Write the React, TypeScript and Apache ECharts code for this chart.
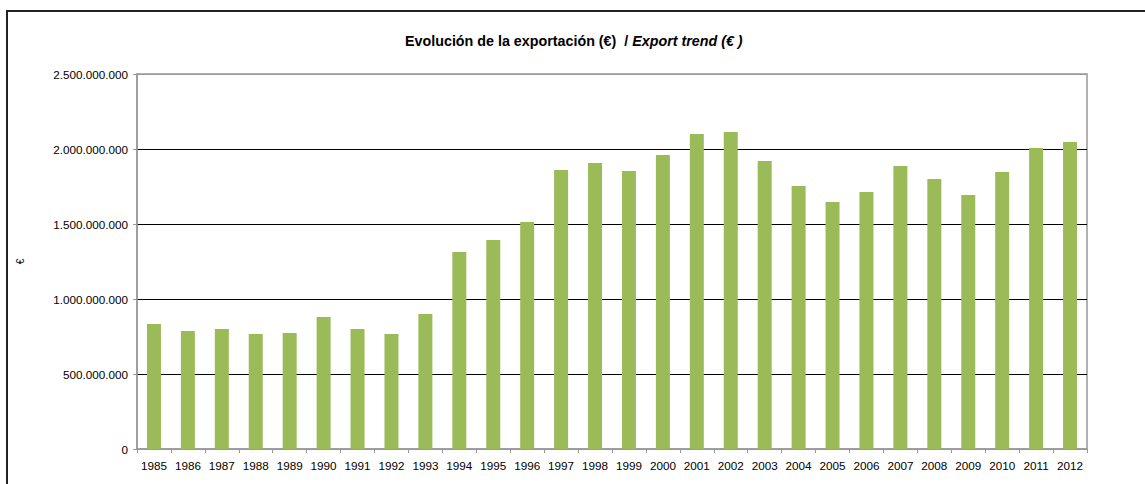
import React, { useEffect, useRef } from "react";
import * as echarts from "echarts";

const years = [
  "1985", "1986", "1987", "1988", "1989", "1990", "1991", "1992", "1993", "1994",
  "1995", "1996", "1997", "1998", "1999", "2000", "2001", "2002", "2003", "2004",
  "2005", "2006", "2007", "2008", "2009", "2010", "2011", "2012",
];

const exports = [
  833000000, 787000000, 800000000, 767000000, 773000000, 880000000, 800000000, 767000000,
  900000000, 1313000000, 1393000000, 1513000000, 1860000000, 1907000000, 1853000000,
  1960000000, 2100000000, 2113000000, 1920000000, 1753000000, 1647000000, 1713000000,
  1887000000, 1800000000, 1693000000, 1847000000, 2007000000, 2047000000,
];

const titleMain = "Evolución de la exportación (€)  / ";
const titleItalic = "Export trend (€ )";
const yAxisName = "€";

const FONT = "'Liberation Sans', Arial, sans-serif";

function fmt(v: number): string {
  return String(Math.round(v)).replace(/\B(?=(\d{3})+(?!\d))/g, ".");
}

export default function App() {
  const ref = useRef<HTMLDivElement>(null);
  useEffect(() => {
    if (!ref.current) return;
    const chart = echarts.init(ref.current, undefined, { renderer: "svg" });
    chart.setOption({
      animation: false,
      backgroundColor: "#fff",
      title: {
        text: `{a|${titleMain}}{b|${titleItalic}}`,
        left: 400,
        top: 27,
        textStyle: {
          rich: {
            a: { fontFamily: FONT, fontSize: 14.3, lineHeight: 17, fontWeight: "bold", color: "#000" },
            b: { fontFamily: FONT, fontSize: 14.3, lineHeight: 17, fontWeight: "bold", fontStyle: "italic", color: "#000" },
          },
        },
      },
      graphic: [
        {
          type: "rect",
          shape: { x: 7, y: 11, width: 1300, height: 700 },
          style: { fill: "none", stroke: "#222", lineWidth: 2 },
          silent: true,
          z: 100,
        },
      ],
      grid: {
        left: 137,
        right: 58,
        top: 74,
        bottom: 35,
        show: true,
        borderColor: "#999",
        borderWidth: 1.5,
      },
      xAxis: {
        type: "category",
        data: years,
        axisLine: { lineStyle: { color: "#999", width: 1.5 } },
        axisTick: { show: true, length: 4, lineStyle: { color: "#999" }, alignWithLabel: false },
        axisLabel: { color: "#000", fontFamily: FONT, fontSize: 11.7, margin: 10, interval: 0 },
      },
      yAxis: {
        type: "value",
        min: 0,
        max: 2500000000,
        interval: 500000000,
        name: yAxisName,
        nameLocation: "middle",
        nameRotate: 90,
        nameGap: 112,
        nameTextStyle: { fontFamily: FONT, fontSize: 10, color: "#000" },
        axisLine: { show: true, lineStyle: { color: "#999", width: 1.5 } },
        axisTick: { show: true, length: 4, lineStyle: { color: "#999" } },
        axisLabel: {
          color: "#000",
          fontFamily: FONT,
          fontSize: 11.7,
          margin: 9,
          formatter: (v: number) => fmt(v),
        },
        splitLine: {
          show: true,
          lineStyle: { color: ["#999", "#000", "#000", "#000", "#000", "#999"], width: 1 },
        },
      },
      series: [
        {
          type: "bar",
          data: exports,
          barWidth: 14,
          itemStyle: { color: "#9BBB59" },
        },
      ],
    });
    return () => chart.dispose();
  }, []);
  return (
    <div
      ref={ref}
      style={{ position: "fixed", left: 0, top: 0, width: 1145, height: 484 }}
    />
  );
}
